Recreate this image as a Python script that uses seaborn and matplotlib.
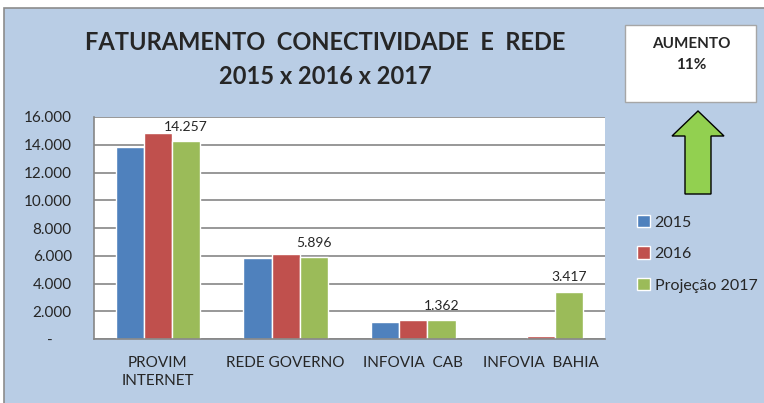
import numpy as np
import pandas as pd
import matplotlib
matplotlib.use("Agg")
import matplotlib.pyplot as plt
from matplotlib.patches import Rectangle, Polygon
import seaborn as sns

#%% data
categories = ["PROVIM\nINTERNET", "REDE GOVERNO", "INFOVIA  CAB", "INFOVIA  BAHIA"]
series = ["2015", "2016", "Projeção 2017"]
values_2015 = [13860, 5860, 1250, 0]
values_2016 = [14870, 6150, 1380, 250]
values_2017 = [14257, 5896, 1362, 3417]
yticks = [0, 2000, 4000, 6000, 8000, 10000, 12000, 14000, 16000]

colors = ["#4F81BD", "#C0504D", "#9BBB59"]
bg = "#B9CDE5"

df = pd.DataFrame({
    "categoria": categories * 3,
    "serie": np.repeat(series, len(categories)),
    "valor": values_2015 + values_2016 + values_2017,
})

#%% plot
sns.set_theme(style="white")
plt.rcParams["font.family"] = ["Lato", "DejaVu Sans"]

W, H = 764, 403
fig = plt.figure(figsize=(W / 100, H / 100), dpi=100, facecolor="white")

def fx(px):
    return px / W

def fy(py):
    return 1 - py / H

# chart area background with border (only top/left edges visible)
fig.add_artist(Rectangle((fx(4), -0.1), 1.2, fy(8) + 0.1, transform=fig.transFigure,
                         facecolor=bg, edgecolor="#8C8C8C", lw=1.2, zorder=0))

ax = fig.add_axes([fx(94), fy(339), fx(605) - fx(94), fy(117) - fy(339)])
ax.set_facecolor("white")
sns.barplot(data=df, x="categoria", y="valor", hue="serie", palette=colors,
            width=0.66, ax=ax, saturation=1, legend=True)

ax.set_ylim(0, 16000)
ax.set_yticks(yticks)
ax.set_yticklabels(["-     " if v == 0 else f"{v:,.0f}".replace(",", ".") for v in yticks],
                   fontsize=11)
ax.tick_params(axis="y", length=0, pad=16)
ax.tick_params(axis="x", length=0, pad=12, labelsize=11)
for t in ax.get_xticklabels():
    t.set_linespacing(1.4)
ax.set_xlabel("")
ax.set_ylabel("")
ax.yaxis.grid(True, color="#868686", lw=1.2)
ax.set_axisbelow(True)
for side in ["top", "right"]:
    ax.spines[side].set_visible(False)
for side in ["left", "bottom"]:
    ax.spines[side].set_color("#868686")
    ax.spines[side].set_linewidth(1.2)

# value labels on the projection bars
for rect, v in zip(ax.containers[2], values_2017):
    ax.annotate(f"{v:,.0f}".replace(",", "."),
                (rect.get_x() + rect.get_width() / 2, rect.get_height()),
                xytext=(0, 6), textcoords="offset points",
                ha="center", va="bottom", fontsize=10)

handles, labels = ax.get_legend_handles_labels()
ax.get_legend().remove()
fig.legend(handles, labels, loc="upper left", bbox_to_anchor=(fx(629), fy(207)),
           frameon=False, fontsize=11.5, handlelength=0.8, handleheight=0.8,
           handletextpad=0.3, labelspacing=1.05, borderpad=0)

# title
fig.text(fx(325), fy(43), "FATURAMENTO  CONECTIVIDADE  E  REDE", ha="center", va="center",
         fontsize=17, fontweight="bold")
fig.text(fx(325), fy(77), "2015 x 2016 x 2017", ha="center", va="center",
         fontsize=17, fontweight="bold")

# "aumento" box and arrow
fig.add_artist(Rectangle((fx(625), fy(102)), fx(756) - fx(625), fy(25) - fy(102),
                         transform=fig.transFigure, facecolor="white",
                         edgecolor="#A6A6A6", lw=1))
fig.text(fx(691), fy(44), "AUMENTO", ha="center", va="center", fontsize=11, fontweight="bold")
fig.text(fx(691), fy(65), "11%", ha="center", va="center", fontsize=11, fontweight="bold")

arrow_px = [(698, 111), (724, 136), (711, 136), (711, 194), (685, 194), (685, 136), (672, 136)]
fig.add_artist(Polygon([(fx(x), fy(y)) for x, y in arrow_px], closed=True,
                       transform=fig.transFigure, facecolor="#92D050",
                       edgecolor="black", lw=1))

plt.savefig("out.png", dpi=100, facecolor="white")
